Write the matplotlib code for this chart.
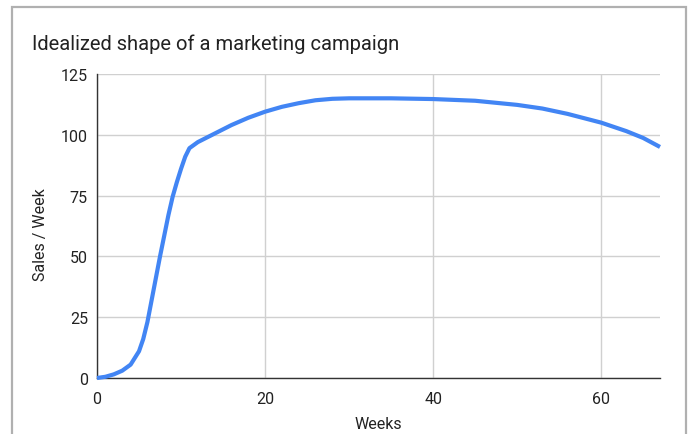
import matplotlib.pyplot as plt
from matplotlib.patches import Rectangle

plt.rcParams['font.family'] = ['Roboto', 'DejaVu Sans']

# values
weeks = [0, 1, 2, 3, 4, 5, 5.5, 6, 6.5, 7, 7.5, 8, 8.5, 9, 9.5, 10, 10.5, 11,
         12, 14, 16, 18, 20, 22, 24, 26, 28, 30, 35, 40, 45, 50, 53, 56, 60,
         63, 65, 67]
sales = [0, 0.5, 1.5, 3, 5.5, 11, 16, 23, 32, 41, 50, 58.5, 67, 74.5, 80.5,
         86, 91, 94.5, 97, 100.5, 104, 107, 109.5, 111.5, 113, 114.2, 114.8,
         115, 115, 114.7, 114, 112.3, 110.8, 108.6, 105, 101.5, 98.7, 95]
x_ticks = [0, 20, 40, 60]
y_ticks = [0, 25, 50, 75, 100, 125]

W, H = 692, 435
fig = plt.figure(figsize=(W / 100, H / 100), dpi=100)
ax = fig.add_axes([97 / W, 1 - 379 / H, (660 - 97) / W, (379 - 75) / H])

ax.plot(weeks, sales, color='#4285F4', linewidth=3, solid_capstyle='butt',
        solid_joinstyle='round', zorder=3, clip_on=False)

ax.set_xlim(0, 67)
ax.set_ylim(0, 125)
ax.set_xticks(x_ticks)
ax.set_yticks(y_ticks)
ax.tick_params(length=0, labelsize=11.5, colors='#222222')
ax.tick_params(axis='x', pad=9.5)
ax.tick_params(axis='y', pad=6.5)
ax.grid(True, color='#d0d0d0', linewidth=1)
ax.set_axisbelow(True)
for side in ['top', 'right']:
    ax.spines[side].set_visible(False)
for side in ['left', 'bottom']:
    ax.spines[side].set_color('#333333')
    ax.spines[side].set_linewidth(1)
    ax.spines[side].set_zorder(2)

ax.set_xlabel("Weeks", fontsize=11.5, color='#222222', labelpad=7)
fig.text(41 / W, 1 - 235 / H, "Sales / Week", rotation=90, fontsize=11.5,
         color='#222222', ha='center', va='center')
fig.text(32 / W, 1 - 50 / H, "Idealized shape of a marketing campaign",
         fontsize=14.5, color='#222222', ha='left', va='baseline')

# outer frame (open at the bottom, as in the screenshot)
fig.patches.append(Rectangle((12 / W, -0.1), (686 - 12) / W, 1.1 - 8 / H,
                             transform=fig.transFigure, fill=False,
                             edgecolor='#b0b0b0', linewidth=1.6))

fig.savefig("out.png", dpi=100)
